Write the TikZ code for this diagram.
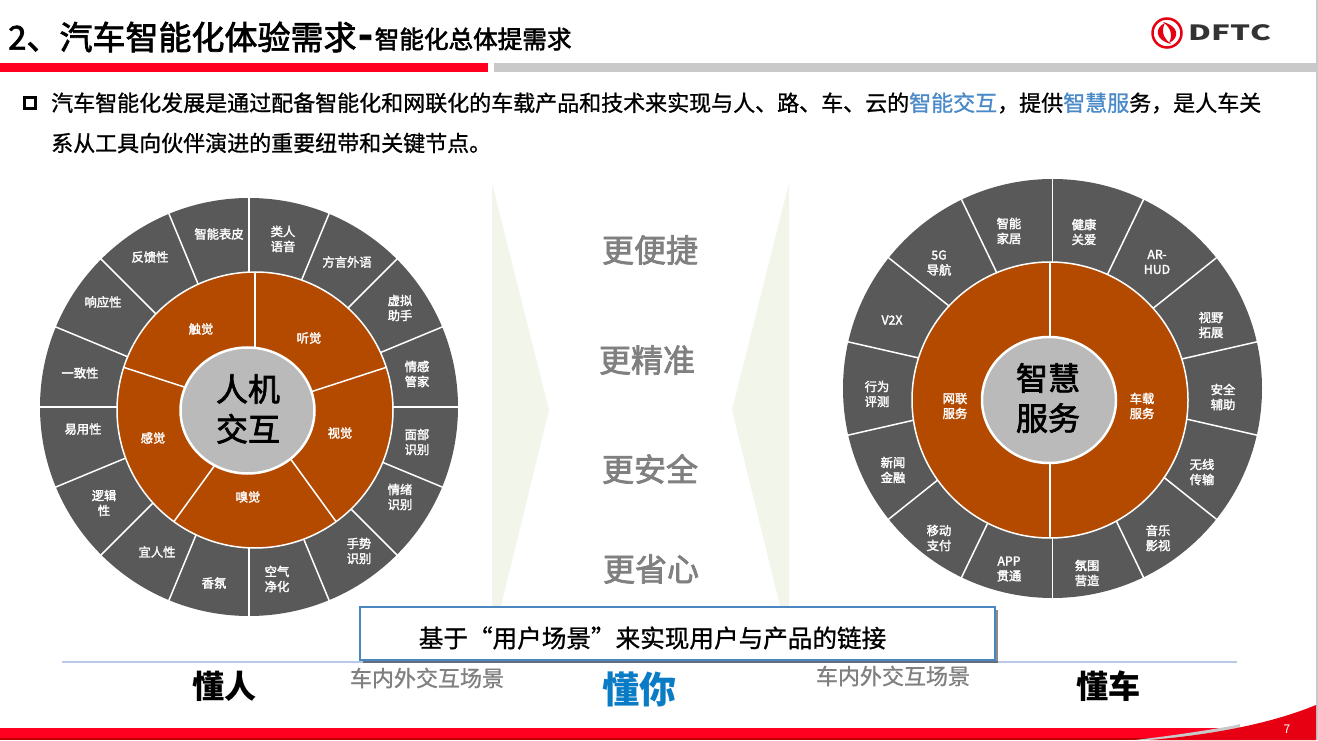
\documentclass[tikz,border=0pt]{standalone}
\usepackage{fontspec}
\setmainfont{Noto Sans CJK SC}
\newfontfamily\lightbold[FakeBold=1]{Noto Sans CJK SC}
\newfontfamily\midbold[FakeBold=2.2]{Noto Sans CJK SC}
\usetikzlibrary{shadows}
\definecolor{barred}{HTML}{FF0020}
\definecolor{bargray}{HTML}{C9C9C9}
\definecolor{wheelgray}{HTML}{595959}
\definecolor{wheelorange}{HTML}{B34A00}
\definecolor{hubgray}{HTML}{BABABA}
\definecolor{paleleaf}{HTML}{F2F6EA}
\definecolor{softblue}{HTML}{4A8AC8}
\definecolor{boxblue}{HTML}{4A86C0}
\definecolor{rulelilac}{HTML}{B9C8E6}
\definecolor{deepblue}{HTML}{0A7CC6}
\definecolor{midgray}{HTML}{808080}
\definecolor{logored}{HTML}{E60012}
\tikzset{
        spoke/.style={white,line width=1.5pt},
        seg/.style={white,font=\midbold\fontsize{12.3}{15}\selectfont,align=center,inner sep=0pt},
        hub/.style={black,font=\midbold\fontsize{32}{40}\selectfont,align=center,inner sep=0pt},
        gain/.style={midgray,font=\midbold\fontsize{32}{36}\selectfont,inner sep=0pt},
        scene/.style={midgray,font=\lightbold\fontsize{22}{26}\selectfont,inner sep=0pt},
        foot/.style={black,font=\bfseries\fontsize{32}{38}\selectfont,inner sep=0pt},
        bodytext/.style={black,font=\lightbold\fontsize{22}{26}\selectfont,inner sep=0pt,anchor=west}
}
\begin{document}
\begin{tikzpicture}[x=1pt,y=1pt]
        \useasboundingbox (0,0) rectangle (1318,740);
        \fill[white] (0,0) rectangle (1318,740);
        \fill[bargray] (1316,0) rectangle (1318,740);
        % header
        \node[anchor=west,inner sep=0pt,font=\midbold\fontsize{33}{38}\selectfont] (title) at (8,703) {2、汽车智能化体验需求};
        \node[anchor=west,inner sep=0pt,font=\midbold\fontsize{24.6}{30}\selectfont] (subtitle) at (358,701) {{\bfseries\fontsize{38}{38}\selectfont -}\hspace{2pt}智能化总体提需求};
        \fill[barred] (0,668) rectangle (488,677);
        \fill[bargray] (494,668) rectangle (1316,677);
        % logo
        \draw[logored,line width=2.5pt] (1167,707) circle (14.5);
        \fill[logored] (1165,717) .. controls (1154,712) and (1155,700) .. (1171,696) .. controls (1163,702) and (1161,709) .. (1165,717);
        \fill[logored] (1169,697) .. controls (1180,702) and (1179,714) .. (1163,718) .. controls (1171,712) and (1173,705) .. (1169,697);
        \node[inner sep=0pt,text=black!80,font=\bfseries\fontsize{21}{21}\selectfont,xscale=1.5] (logotext) at (1230,707) {DFTC};
        % intro text
        \draw[black,line width=2.8pt] (24.5,631.5) rectangle (35.5,642.5);
        \node[bodytext] (introa) at (51,637) {汽车智能化发展是通过配备智能化和网联化的车载产品和技术来实现与人、路、车、云的\textcolor{softblue}{智能交互}，提供\textcolor{softblue}{智慧服}务，是人车关};
        \node[bodytext] (introb) at (51,597) {系从工具向伙伴演进的重要纽带和关键节点。};
        % left wheel
        \fill[wheelgray] (249,333) circle (209);
        \foreach \a in {0,22.5,...,337.5} {
                \draw[spoke] (249,333) -- ++(\a:210);
        }
        \filldraw[fill=wheelorange,draw=white,line width=1.5pt] (255,330) circle (138);
        \foreach \a in {90,18,-54,-126,162} {
                \draw[spoke] (255,330) -- ++(\a:138);
        }
        \filldraw[fill=hubgray,draw=white,line width=2.5pt] (247.5,329.5) ellipse [x radius=67,y radius=63];
        \node[hub] (hubleft) at (248,331) {人机\\交互};
        \foreach \name/\px/\py/\txt in {
                la/219/506/智能表皮, lb/283/501/类人\\语音, lc/347/478/方言外语, ld/400/432/虚拟\\助手,
                le/417/366/情感\\管家, lf/417/298/面部\\识别, lg/400/243/情绪\\识别, lh/359/189/手势\\识别,
                li/277/161/空气\\净化, lj/214/157/香氛, lk/157/188/宜人性, ll/104/237/逻辑\\性,
                lm/83/311/易用性, ln/80/367/一致性, lo/103/438/响应性, lp/150/483/反馈性,
                lq/201/411/触觉, lr/309/402/听觉, ls/340/307/视觉, lt/248/243/嗅觉, lu/153/302/感觉} {
                \node[seg] (\name) at (\px,\py) {\txt};
        }
        % right wheel
        \fill[wheelgray] (1052.5,351.5) circle (209.5);
        \foreach \i in {0,...,13} {
                \draw[spoke] (1052.5,351.5) -- ++({90-\i*360/14}:210.5);
        }
        \filldraw[fill=wheelorange,draw=white,line width=1.5pt] (1050,340) circle (138);
        \draw[spoke] (1050,202) -- (1050,478);
        \filldraw[fill=hubgray,draw=white,line width=2.5pt] (1049,340) ellipse [x radius=67,y radius=63];
        \node[hub] (hubright) at (1048,342) {智慧\\服务};
        \foreach \name/\px/\py/\txt in {
                ra/1084/508/健康\\关爱, rb/1157/478/AR-\\HUD, rc/1211/415/视野\\拓展, rd/1223/343/安全\\辅助,
                re/1202/268/无线\\传输, rf/1158/202/音乐\\影视, rg/1087/167/氛围\\营造, rh/1009/171/APP\\贯通,
                ri/939/202/移动\\支付, rj/893/270/新闻\\金融, rk/877/346/行为\\评测, rl/892/420/V2X,
                rm/939/477/5G\\导航, rn/1009/509/智能\\家居, ro/955/334/网联\\服务, rp/1142/334/车载\\服务} {
                \node[seg] (\name) at (\px,\py) {\txt};
        }
        % middle
        \fill[paleleaf] (492,557) -- (549,330) -- (501,134) -- (492,134) -- cycle;
        \fill[paleleaf] (789,557) -- (732,330) -- (780,134) -- (789,134) -- cycle;
        \node[gain] (gaina) at (650,490) {更便捷};
        \node[gain] (gainb) at (647,380) {更精准};
        \node[gain] (gainc) at (650,271) {更安全};
        \node[gain] (gaind) at (651,171) {更省心};
        % bottom
        \draw[rulelilac,line width=2pt] (62,78.5) -- (1237,78.5);
        \draw[boxblue,line width=2.5pt,fill=white,drop shadow={shadow xshift=2.5pt,shadow yshift=-2.5pt,fill=black,opacity=0.45}] (360,80) rectangle (995,133);
        \node[inner sep=0pt,font=\lightbold\fontsize{24.6}{30}\selectfont] (linkbox) at (652.5,102) {基于“用户场景”来实现用户与产品的链接};
        \node[foot] (foota) at (224,54) {懂人};
        \node[foot,text=deepblue,font=\bfseries\fontsize{37}{42}\selectfont] (footb) at (639,51) {懂你};
        \node[foot] (footc) at (1108,54) {懂车};
        \node[scene] (scenea) at (427,62) {车内外交互场景};
        \node[scene] (sceneb) at (893,64) {车内外交互场景};
        \fill[barred] (0,0) rectangle (1240,12);
        \fill[red!75!black] (0,0) rectangle (1240,2.5);
        \fill[bargray] (1135,0) .. controls (1170,4) and (1195,8) .. (1220,12) .. controls (1226,13) and (1232,14) .. (1240,16) -- (1240,0) -- cycle;
        \fill[logored] (1150,0) .. controls (1210,5) and (1270,16) .. (1316,35) -- (1316,0) -- cycle;
        \node[white,inner sep=0pt,font=\fontsize{12}{14}\selectfont] (pagenum) at (1287,11) {7};
\end{tikzpicture}
\end{document}
